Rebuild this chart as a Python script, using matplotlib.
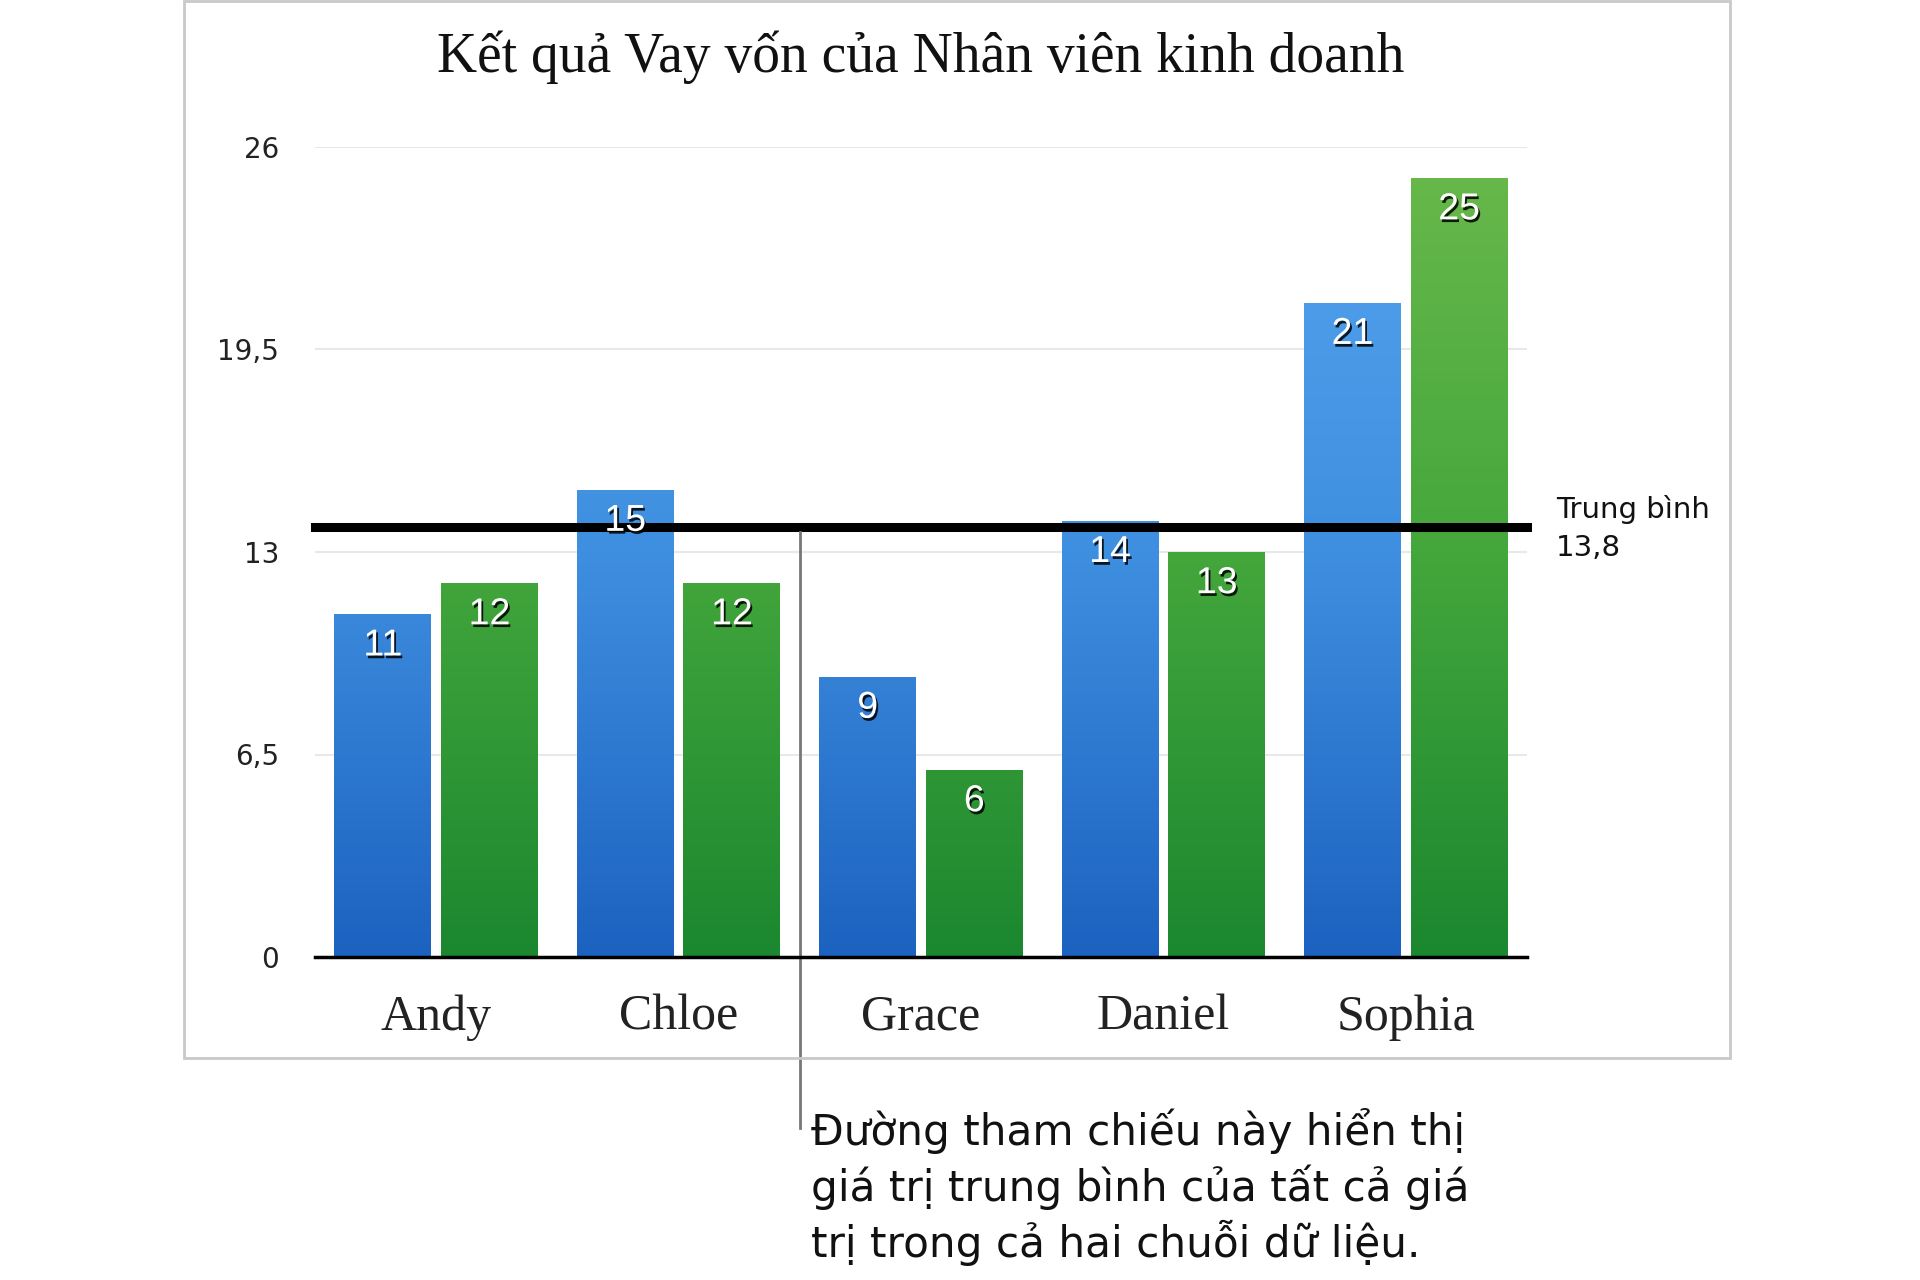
import matplotlib.pyplot as plt
import matplotlib.patheffects as pe
from matplotlib.colors import LinearSegmentedColormap
from matplotlib.patches import Rectangle
import numpy as np

# data
names = ["Andy", "Chloe", "Grace", "Daniel", "Sophia"]
series_a = [11, 15, 9, 14, 21]
series_b = [12, 12, 6, 13, 25]
yticks = [0, 6.5, 13, 19.5, 26]

title = "Kết quả Vay vốn của Nhân viên kinh doanh"
note = ("Đường tham chiếu này hiển thị\n"
        "giá trị trung bình của tất cả giá\n"
        "trị trong cả hai chuỗi dữ liệu.")

mean_val = float(np.mean(series_a + series_b))


def fmt(v):
    s = f"{v:g}" if v == int(v) else f"{v:.1f}"
    return s.replace(".", ",")


blue_cm = LinearSegmentedColormap.from_list("b", ["#1c62c0", "#3f8fe0", "#55a4ee"])
green_cm = LinearSegmentedColormap.from_list("g", ["#1b872f", "#44a73c", "#6ab94b"])

fig = plt.figure(figsize=(19.2, 12.8), dpi=100)
fig.patches.append(Rectangle((184 / 1920, 1 - 1058 / 1280), (1730 - 184) / 1920, 1058 / 1280 - 0.001,
                             transform=fig.transFigure, fill=False,
                             edgecolor="#c9c9c9", linewidth=2, zorder=0))

ax = fig.add_axes([315 / 1920, 1 - 957 / 1280, (1527 - 315) / 1920, (957 - 147) / 1280])

x = np.arange(len(names))
w = 0.4
gap = 0.04
bars_a = ax.bar(x - w / 2 - gap / 2, series_a, w, color="none", zorder=2)
bars_b = ax.bar(x + w / 2 + gap / 2, series_b, w, color="none", zorder=2)

grad = np.linspace(0, 1, 256).reshape(-1, 1)
for bars, cm in [(bars_a, blue_cm), (bars_b, green_cm)]:
    for b in bars:
        x0, y0 = b.get_x(), b.get_y()
        im = ax.imshow(grad, cmap=cm, origin="lower", aspect="auto",
                       extent=[x0, x0 + b.get_width(), y0, 26], zorder=2)
        im.set_clip_path(b)
        v = b.get_height()
        ax.text(x0 + b.get_width() / 2, v - 1.0, str(int(v)), ha="center", va="center",
                color="white", fontsize=27, family="Liberation Sans", zorder=4,
                path_effects=[pe.withSimplePatchShadow(offset=(1.3, -2.0), shadow_rgbFace="black", alpha=0.85)])

for y in yticks[1:]:
    ax.axhline(y, color="#e8e8e8", linewidth=1.5, zorder=1)

ax.axhline(mean_val, color="black", linewidth=6.5, zorder=3, clip_on=False)
ax.text(4.62, mean_val - 0.05, "Trung bình\n" + fmt(mean_val), ha="left", va="center",
        fontsize=21, family="DejaVu Sans", linespacing=1.45, color="#111111")

# leader line to the note below
ax.plot([1.5, 1.5], [mean_val - 0.15, -5.5], color="#777777", linewidth=2, clip_on=False, zorder=3)
fig.text(811 / 1920, 1 - 1108 / 1280, note, ha="left", va="top", fontsize=30.3,
         family="DejaVu Sans", linespacing=1.28, color="#111111")

ax.set_xlim(-0.5, 4.5)
ax.set_ylim(0, 26)
ax.set_xticks(x)
ax.set_xticklabels(names, family="Liberation Serif", fontsize=36, color="#222222")
ax.set_yticks(yticks)
ax.set_yticklabels([fmt(v) for v in yticks], family="DejaVu Sans", fontsize=20, color="#222222")
ax.tick_params(axis="x", length=0, pad=27)
ax.tick_params(axis="y", length=0, pad=26)
for s in ["top", "right", "left"]:
    ax.spines[s].set_visible(False)
ax.spines["bottom"].set_linewidth(2.5)
ax.spines["bottom"].set_zorder(5)

fig.text(921 / 1920, 1 - 57 / 1280, title, ha="center", va="center",
         fontsize=40, family="Liberation Serif", color="#111111")

fig.savefig("out.png", dpi=100)
